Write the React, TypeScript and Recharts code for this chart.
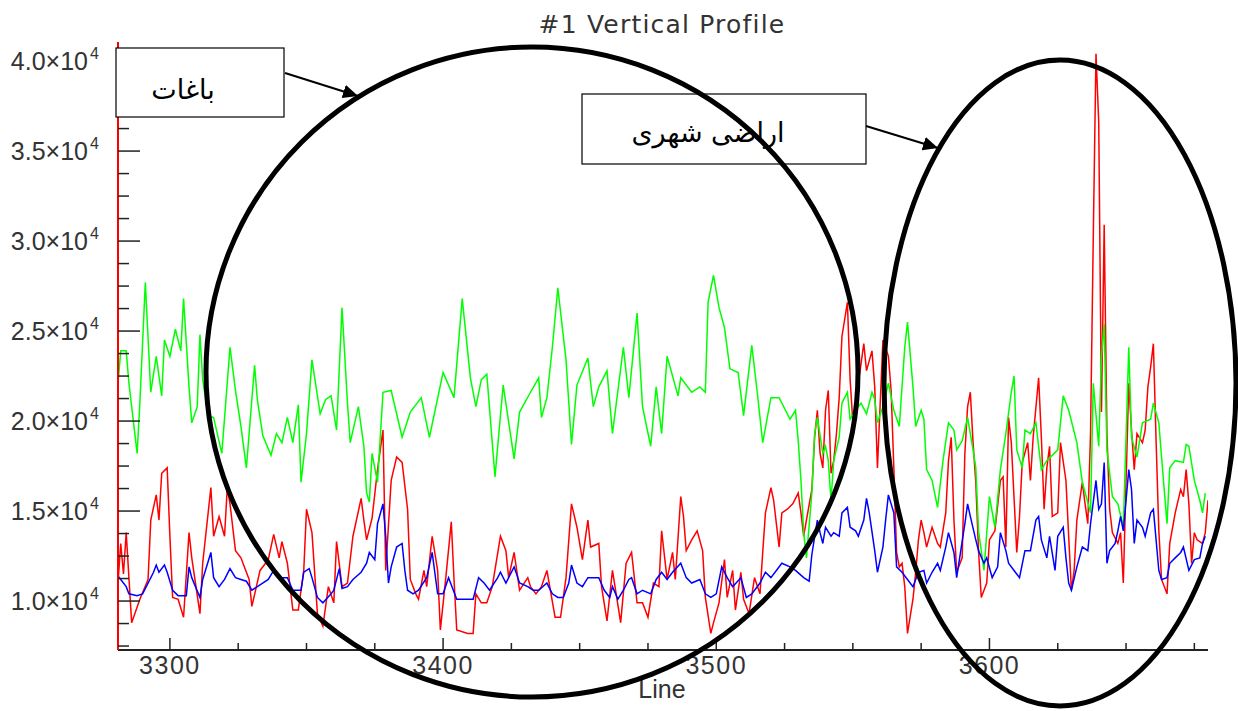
import { LineChart, Line, XAxis, YAxis } from "recharts";

// [line, value] pairs
const green: [number, number][] = [
  [3281, 22100], [3282, 23900], [3284, 23900], [3285, 22100], [3288, 18200], [3289, 21000], [3291, 27700], [3293, 21600],
  [3295, 23600], [3297, 21400], [3298, 24500], [3300, 23600], [3302, 25100], [3304, 23900], [3305, 26800], [3307, 21900],
  [3308, 19900], [3310, 20800], [3311, 24800], [3312, 22300], [3314, 20300], [3316, 20200], [3319, 18200], [3322, 24100],
  [3324, 21700], [3326, 19700], [3328, 17400], [3331, 23100], [3332, 21200], [3334, 19200], [3337, 18100], [3339, 19300],
  [3341, 18800], [3343, 20200], [3345, 18800], [3347, 20900], [3348, 16600], [3350, 19300], [3352, 23400], [3355, 20400],
  [3357, 21200], [3359, 21400], [3361, 19500], [3363, 26300], [3365, 21000], [3366, 18800], [3369, 20800], [3371, 18600],
  [3372, 16000], [3373, 15500], [3374, 18200], [3376, 16600], [3378, 21600], [3381, 21700], [3385, 19100], [3388, 20500],
  [3392, 21300], [3395, 19100], [3400, 22700], [3404, 21300], [3407, 26800], [3410, 22400], [3412, 20800], [3414, 22300],
  [3416, 22600], [3419, 16900], [3422, 22000], [3426, 17900], [3428, 20500], [3432, 21600], [3435, 22400], [3436, 20200],
  [3438, 21300], [3440, 24100], [3442, 27400], [3445, 23400], [3447, 18700], [3449, 22000], [3453, 23500], [3455, 20800],
  [3457, 21900], [3460, 22800], [3462, 19300], [3466, 24100], [3468, 21300], [3471, 26000], [3473, 20800], [3476, 18600],
  [3478, 21900], [3480, 19300], [3482, 23600], [3486, 21400], [3487, 22400], [3491, 21600], [3494, 21900], [3496, 21600],
  [3497, 26600], [3499, 28100], [3501, 26300], [3503, 25200], [3505, 22900], [3508, 22700], [3510, 20300], [3513, 24200],
  [3515, 21600], [3517, 18800], [3520, 21300], [3523, 21300], [3527, 20100], [3529, 20600], [3530, 18900], [3531, 16700],
  [3532, 13800], [3533, 12400], [3535, 16000], [3536, 19300], [3537, 20200], [3539, 18200], [3540, 18600], [3541, 17800],
  [3542, 15600], [3543, 17800], [3545, 19100], [3546, 21000], [3548, 21600], [3549, 20100], [3551, 20600], [3553, 21000],
  [3555, 20400], [3557, 21600], [3558, 21200], [3559, 19900], [3561, 20800], [3563, 22100], [3565, 20600], [3567, 19700],
  [3569, 24100], [3570, 25500], [3572, 21900], [3573, 19700], [3575, 20600], [3576, 20100], [3577, 17300], [3579, 16700],
  [3581, 15200], [3583, 17800], [3585, 19900], [3587, 19500], [3588, 18400], [3590, 18900], [3592, 20200], [3594, 18400],
  [3595, 17400], [3596, 13900], [3598, 11700], [3600, 15800], [3602, 14100], [3604, 17300], [3606, 19300], [3608, 21600],
  [3609, 22500], [3610, 18400], [3612, 17400], [3613, 19500], [3615, 19300], [3617, 19900], [3619, 17300], [3621, 17800],
  [3625, 18400], [3627, 21400], [3629, 20600], [3632, 18800], [3634, 16600], [3637, 14900], [3638, 22100], [3640, 18600],
  [3641, 23600], [3642, 25400], [3643, 18400], [3645, 15800], [3647, 15400], [3649, 14100], [3650, 19100], [3651, 24100],
  [3652, 19100], [3654, 18000], [3656, 19900], [3659, 20100], [3660, 21000], [3662, 19900], [3663, 18000], [3665, 14300],
  [3666, 17400], [3668, 17800], [3671, 17700], [3672, 18700], [3673, 18600], [3675, 16700], [3677, 15600], [3678, 14900],
  [3679, 16000],
];

const red: [number, number][] = [
  [3281, 11000], [3282, 13200], [3283, 11500], [3284, 13800], [3286, 8800], [3289, 10100], [3292, 11200], [3293, 14500],
  [3295, 15900], [3296, 14500], [3297, 17100], [3299, 17400], [3300, 13600], [3301, 10200], [3303, 10100], [3305, 9100],
  [3307, 13800], [3308, 12400], [3311, 9300], [3312, 12100], [3315, 16300], [3316, 13600], [3318, 14700], [3320, 13600],
  [3321, 16300], [3322, 15400], [3324, 12800], [3326, 12400], [3329, 11200], [3330, 9700], [3333, 11700], [3336, 12300],
  [3338, 13700], [3340, 12400], [3341, 13300], [3343, 12100], [3345, 9500], [3347, 9500], [3349, 11700], [3350, 15100],
  [3352, 13800], [3354, 9300], [3356, 8600], [3358, 10800], [3360, 9900], [3361, 13300], [3363, 10800], [3365, 11000],
  [3367, 13600], [3370, 15700], [3371, 14500], [3372, 13400], [3374, 14600], [3376, 17300], [3378, 19500], [3379, 11700],
  [3381, 16700], [3383, 18000], [3385, 17700], [3387, 15100], [3388, 11200], [3390, 10400], [3391, 10100], [3393, 11700],
  [3394, 10800], [3396, 13600], [3398, 11700], [3399, 8400], [3401, 11300], [3403, 14400], [3404, 11200], [3405, 8400],
  [3409, 8200], [3411, 8200], [3412, 10400], [3414, 9900], [3416, 9900], [3418, 10800], [3421, 13600], [3423, 12800],
  [3424, 11300], [3426, 12700], [3428, 10600], [3431, 11300], [3432, 10800], [3434, 10400], [3436, 10800], [3438, 11700],
  [3441, 9100], [3443, 9100], [3445, 11300], [3447, 15400], [3449, 14100], [3451, 12300], [3453, 14500], [3454, 13000],
  [3457, 13200], [3458, 10800], [3460, 8900], [3462, 11700], [3465, 8800], [3467, 12100], [3469, 12700], [3471, 9900],
  [3473, 9900], [3475, 9100], [3477, 11000], [3479, 10800], [3480, 13900], [3482, 11200], [3484, 12700], [3485, 11200],
  [3487, 15800], [3488, 14700], [3489, 12800], [3491, 13400], [3493, 13900], [3495, 12800], [3496, 10200], [3498, 8200],
  [3499, 8800], [3501, 9900], [3503, 12300], [3504, 10200], [3506, 11700], [3507, 9500], [3509, 11600], [3510, 10100],
  [3512, 9300], [3514, 11300], [3516, 10400], [3517, 12700], [3518, 14900], [3520, 16300], [3521, 15600], [3523, 13000],
  [3524, 14900], [3526, 15100], [3528, 15400], [3530, 16000], [3531, 14900], [3532, 13600], [3533, 14500], [3535, 16200],
  [3536, 19100], [3537, 20600], [3538, 18200], [3539, 17400], [3540, 20600], [3541, 21700], [3542, 17100], [3543, 17800],
  [3544, 19300], [3545, 21300], [3546, 24700], [3548, 26600], [3549, 22300], [3550, 19900], [3551, 21000], [3554, 24300],
  [3555, 22800], [3557, 23900], [3558, 21900], [3559, 17400], [3561, 24500], [3563, 23600], [3564, 21700], [3565, 17400],
  [3566, 12700], [3567, 11900], [3568, 12100], [3569, 10800], [3570, 8200], [3572, 10100], [3573, 11600], [3574, 13400],
  [3575, 14500], [3576, 13800], [3577, 13000], [3579, 14100], [3581, 13200], [3582, 13000], [3584, 14900], [3585, 17800],
  [3586, 19100], [3587, 14500], [3588, 11600], [3590, 12400], [3591, 18200], [3592, 20800], [3593, 21600], [3594, 18800],
  [3595, 16600], [3596, 12800], [3597, 10200], [3599, 11000], [3600, 13400], [3602, 13900], [3604, 16700], [3605, 16900],
  [3606, 13000], [3607, 20200], [3608, 18800], [3610, 12700], [3611, 14700], [3612, 17700], [3614, 18800], [3615, 16700],
  [3616, 19100], [3618, 22400], [3619, 19100], [3620, 15100], [3621, 17400], [3622, 18600], [3623, 14700], [3625, 14900],
  [3626, 18800], [3628, 16700], [3629, 13600], [3630, 10600], [3631, 11700], [3632, 14500], [3634, 16600], [3635, 15400],
  [3636, 14300], [3637, 19300], [3638, 30200], [3639, 40400], [3640, 36600], [3641, 20500], [3642, 30900], [3643, 19300],
  [3644, 15100], [3645, 13800], [3647, 13200], [3648, 13800], [3649, 11000], [3650, 16600], [3651, 22100], [3652, 19500],
  [3653, 17300], [3654, 19300], [3656, 18800], [3657, 19500], [3658, 21900], [3659, 23000], [3660, 24300], [3661, 18900],
  [3662, 13900], [3663, 11200], [3665, 10400], [3666, 13200], [3668, 14900], [3670, 16200], [3671, 15800], [3672, 17300],
  [3673, 15400], [3674, 12100], [3675, 13800], [3676, 13400], [3678, 13200], [3679, 13800], [3680, 15600],
];

const blue: [number, number][] = [
  [3281, 11400], [3282, 11200], [3284, 10800], [3285, 10400], [3288, 10300], [3290, 10400], [3292, 11000], [3294, 11600],
  [3295, 12000], [3296, 11600], [3298, 12000], [3299, 11600], [3301, 10600], [3303, 10300], [3306, 10300], [3307, 11900],
  [3308, 11300], [3311, 10200], [3312, 11200], [3315, 12700], [3316, 11300], [3318, 10800], [3320, 11200], [3322, 11800],
  [3324, 11300], [3326, 11200], [3328, 11100], [3330, 10600], [3333, 10900], [3336, 11200], [3338, 11700], [3340, 11300],
  [3343, 11300], [3345, 10600], [3348, 10600], [3349, 11600], [3351, 11800], [3352, 11300], [3354, 10200], [3356, 9900],
  [3359, 10400], [3360, 10600], [3362, 11800], [3363, 10700], [3365, 10800], [3367, 11200], [3370, 11600], [3372, 12100],
  [3373, 12700], [3375, 12300], [3376, 14300], [3378, 15400], [3379, 13600], [3380, 11000], [3381, 11900], [3383, 13000],
  [3385, 13200], [3386, 11700], [3387, 10600], [3389, 10400], [3391, 10600], [3394, 11300], [3396, 12700], [3398, 10400],
  [3400, 10400], [3402, 11300], [3405, 10100], [3409, 10100], [3411, 10100], [3413, 11300], [3415, 11000], [3417, 10600],
  [3420, 11300], [3421, 11600], [3423, 11000], [3426, 11900], [3428, 11000], [3431, 10800], [3433, 10600], [3435, 10600],
  [3438, 11000], [3440, 10400], [3442, 10200], [3444, 10200], [3446, 11000], [3447, 12000], [3449, 11000], [3451, 10800],
  [3453, 11300], [3455, 11300], [3457, 11300], [3459, 10600], [3461, 10200], [3462, 10800], [3464, 10100], [3466, 10600],
  [3468, 11200], [3469, 11300], [3471, 10400], [3473, 10600], [3476, 10400], [3478, 11200], [3480, 11600], [3482, 11200],
  [3484, 11600], [3487, 12100], [3489, 11300], [3491, 11000], [3494, 11200], [3496, 10400], [3498, 10200], [3500, 10400],
  [3502, 11900], [3504, 11300], [3506, 10800], [3509, 11300], [3511, 10200], [3513, 10400], [3516, 11000], [3518, 11600],
  [3520, 11300], [3522, 11700], [3524, 12100], [3527, 11900], [3529, 11700], [3532, 11300], [3534, 11100], [3535, 12600],
  [3537, 14500], [3538, 13800], [3539, 13200], [3540, 14100], [3542, 13600], [3543, 13800], [3545, 13600], [3546, 14900],
  [3548, 15200], [3549, 14100], [3551, 13900], [3552, 13600], [3554, 14500], [3555, 15700], [3556, 14900], [3558, 12800],
  [3559, 11600], [3561, 13000], [3562, 14500], [3563, 15900], [3565, 14900], [3566, 11900], [3568, 11600], [3570, 11200],
  [3572, 10800], [3574, 11600], [3576, 11700], [3577, 11000], [3579, 11600], [3581, 12100], [3582, 11700], [3584, 13000],
  [3585, 13800], [3587, 12700], [3588, 11300], [3591, 14300], [3592, 15400], [3593, 14700], [3595, 13400], [3596, 12800],
  [3598, 12100], [3599, 12400], [3601, 11300], [3603, 11900], [3604, 13800], [3606, 12800], [3607, 12100], [3609, 11700],
  [3611, 11300], [3613, 12800], [3615, 12800], [3617, 14500], [3618, 14700], [3619, 13400], [3621, 12400], [3622, 13600],
  [3624, 11700], [3625, 13600], [3627, 14100], [3628, 12400], [3629, 11000], [3630, 10600], [3632, 11900], [3634, 13000],
  [3636, 12800], [3637, 14300], [3639, 16700], [3640, 15100], [3641, 15400], [3642, 17700], [3643, 12100], [3644, 12800],
  [3646, 13200], [3647, 13900], [3648, 14700], [3649, 13900], [3651, 17300], [3652, 16200], [3653, 13200], [3654, 14500],
  [3656, 14100], [3657, 13600], [3659, 14900], [3660, 15100], [3661, 13400], [3662, 11700], [3663, 11200], [3665, 11300],
  [3666, 12100], [3668, 12400], [3670, 12700], [3671, 13000], [3673, 11700], [3675, 12300], [3677, 12400], [3678, 13200],
  [3679, 13600],
];

const xMajorTicks = [3300, 3400, 3500, 3600];
const xMinorTicks = [3325, 3350, 3375, 3425, 3450, 3475, 3525, 3550, 3575, 3625, 3650, 3675];
const yMajorTicks = [10000, 15000, 20000, 25000, 30000, 35000, 40000];
const yMinorTicks = [
  7500, 8750, 11250, 12500, 13750, 16250, 17500, 18750, 21250, 22500, 23750,
  26250, 27500, 28750, 31250, 32500, 33750, 36250, 37500, 38750,
];

const title = "#1 Vertical Profile";
const xTitle = "Line";
const gardensLabel = "باغات";
const urbanLabel = "اراضی شهری";

const X_DOMAIN: [number, number] = [3281, 3680];
const Y_DOMAIN: [number, number] = [7280, 41060];
const AXIS = "#222";
const TEXT = "#333";
const FONT = "'Liberation Sans', Arial, sans-serif";
const ARABIC = "'DejaVu Sans', sans-serif";

const xTicks = [...xMajorTicks, ...xMinorTicks].sort((a, b) => a - b);
const yTicks = [...yMajorTicks, ...yMinorTicks].sort((a, b) => a - b);
const rows = (pts: [number, number][]) => pts.map(([line, value]) => ({ line, value }));

function BottomTick({ x, y, payload }: any) {
  const major = xMajorTicks.includes(payload.value);
  return (
    <g>
      <line x1={x} y1={y} x2={x} y2={y - (major ? 12 : 7)} stroke={AXIS} strokeWidth={1.5} />
      {major && (
        <text x={x} y={y + 15} textAnchor="middle" dominantBaseline="central"
          fontFamily={FONT} fontSize={25} letterSpacing={1.5} fill={TEXT}>
          {payload.value}
        </text>
      )}
    </g>
  );
}

function TopTick({ x, y, payload }: any) {
  const major = xMajorTicks.includes(payload.value);
  return <line x1={x} y1={y} x2={x} y2={y + (major ? 12 : 7)} stroke={AXIS} strokeWidth={1.5} />;
}

function LeftTick({ x, y, payload }: any) {
  const v = payload.value;
  const major = yMajorTicks.includes(v);
  return (
    <g>
      <line x1={x} y1={y} x2={x + (major ? 22 : 11)} y2={y} stroke={AXIS} strokeWidth={1.5} />
      {major && (
        <>
          <text x={x - 30} y={y} textAnchor="end" dominantBaseline="central"
            fontFamily={FONT} fontSize={25} fill={TEXT}>
            {`${(v / 10000).toFixed(1)}×10`}
          </text>
          <text x={x - 28} y={y - 8} textAnchor="start" dominantBaseline="central"
            fontFamily={FONT} fontSize={16} fill={TEXT}>
            4
          </text>
        </>
      )}
    </g>
  );
}

function RightTick({ x, y, payload }: any) {
  const major = yMajorTicks.includes(payload.value);
  return <line x1={x} y1={y} x2={x - (major ? 22 : 11)} y2={y} stroke={AXIS} strokeWidth={1.5} />;
}

export default function App() {
  return (
    <div style={{ position: "absolute", left: 0, top: 0, width: 1238, height: 711, background: "#fff" }}>
      <LineChart width={1238} height={711} margin={{ top: 42, right: 30, bottom: 0, left: 0 }}>
        <XAxis type="number" dataKey="line" domain={X_DOMAIN} allowDataOverflow ticks={xTicks} interval={0}
          height={61} tick={BottomTick} tickLine={false} tickSize={0} tickMargin={0}
          axisLine={{ stroke: AXIS, strokeWidth: 2 }} />
        <XAxis xAxisId="top" orientation="top" type="number" dataKey="line" domain={X_DOMAIN} allowDataOverflow
          ticks={xTicks} interval={0} height={0} tick={TopTick} tickLine={false} tickSize={0} tickMargin={0}
          axisLine={{ stroke: AXIS, strokeWidth: 2 }} />
        <YAxis type="number" domain={Y_DOMAIN} allowDataOverflow ticks={yTicks} interval={0} width={118}
          tick={LeftTick} tickLine={false} tickSize={0} tickMargin={0}
          axisLine={{ stroke: "#ff0000", strokeWidth: 2 }} />
        <YAxis yAxisId="right" orientation="right" type="number" domain={Y_DOMAIN} allowDataOverflow ticks={yTicks}
          interval={0} width={0} tick={RightTick} tickLine={false} tickSize={0} tickMargin={0}
          axisLine={{ stroke: AXIS, strokeWidth: 2 }} />
        <Line data={rows(red)} dataKey="value" type="linear" stroke="#ff0000" strokeWidth={1.5} dot={false} isAnimationActive={false} />
        <Line data={rows(green)} dataKey="value" type="linear" stroke="#00ff00" strokeWidth={1.5} dot={false} isAnimationActive={false} />
        <Line data={rows(blue)} dataKey="value" type="linear" stroke="#0000ff" strokeWidth={1.5} dot={false} isAnimationActive={false} />
      </LineChart>
      <svg width={1238} height={711} style={{ position: "absolute", left: 0, top: 0, pointerEvents: "none" }}>
        <defs>
          <marker id="arrowHead" markerUnits="userSpaceOnUse" markerWidth={16} markerHeight={14} refX={15} refY={7} orient="auto">
            <path d="M0,0 L15,7 L0,14 Z" fill="#000" />
          </marker>
        </defs>
        <text x={662} y={24} textAnchor="middle" dominantBaseline="central" fontFamily="'DejaVu Sans', sans-serif"
          fontSize={25} letterSpacing={1.2} fill={TEXT}>{title}</text>
        <text x={662} y={689} textAnchor="middle" dominantBaseline="central" fontFamily={FONT}
          fontSize={25} fill={TEXT}>{xTitle}</text>
        <rect x={116} y={48} width={168} height={69} fill="#fff" stroke="#000" strokeWidth={1.2} />
        <text x={183} y={99} textAnchor="middle" fontFamily={ARABIC} fontSize={27} fill="#000">{gardensLabel}</text>
        <rect x={582} y={94} width={284} height={70} fill="#fff" stroke="#000" strokeWidth={1.2} />
        <text x={708} y={142} textAnchor="middle" fontFamily={ARABIC} fontSize={27} fill="#000">{urbanLabel}</text>
        <ellipse cx={532} cy={372} rx={326} ry={325} fill="none" stroke="#000" strokeWidth={5} />
        <ellipse cx={1060} cy={383} rx={176} ry={323} fill="none" stroke="#000" strokeWidth={5} />
        <line x1={285} y1={73} x2={358} y2={96} stroke="#000" strokeWidth={2} markerEnd="url(#arrowHead)" />
        <line x1={866} y1={126} x2={938} y2={148} stroke="#000" strokeWidth={2} markerEnd="url(#arrowHead)" />
      </svg>
    </div>
  );
}
